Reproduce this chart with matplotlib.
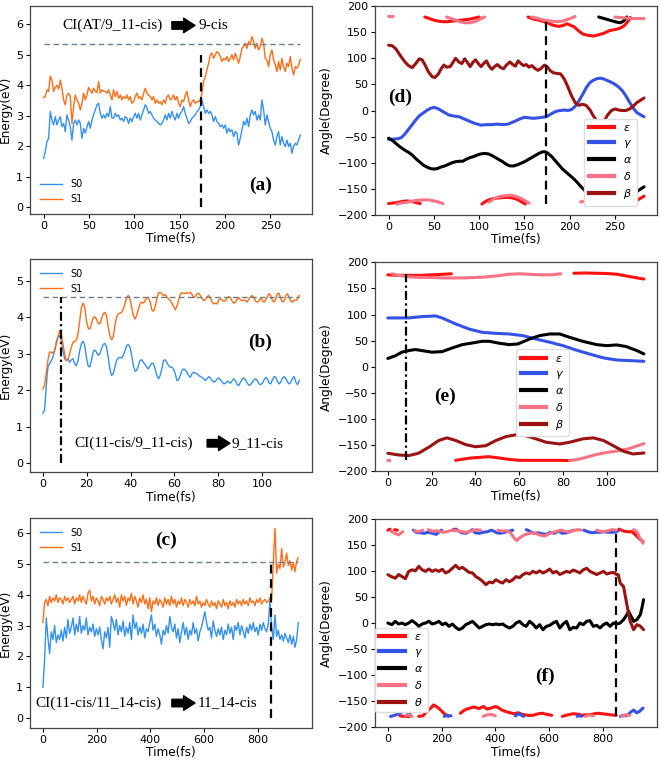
import numpy as np
import matplotlib
matplotlib.use("Agg")
import matplotlib.pyplot as plt
from matplotlib.lines import Line2D

# ---------------- DATA ----------------
# Panel (a): energies (eV), sampled uniformly over 0..283 fs
a_tmax = 283
a_S1 = [3.6,3.63,3.85,3.8,4.3,4.17,3.8,3.93,4.0,3.87,4.17,3.9,3.52,3.36,3.68,3.74,3.63,2.75,3.3,3.68,3.52,3.41,3.19,3.41,3.74,3.52,3.68,3.93,3.83,3.74,3.9,3.8,3.76,4.12,3.74,3.85,3.8,3.8,3.74,3.85,3.68,3.52,3.85,3.63,3.8,3.57,3.68,3.52,3.63,3.57,3.68,3.52,3.63,3.41,3.46,3.63,3.74,3.57,3.63,3.52,3.74,3.9,3.74,3.68,3.63,3.52,3.63,3.41,3.52,3.41,3.46,3.36,3.52,3.41,3.63,3.68,3.52,3.57,3.68,3.52,3.63,3.41,3.3,3.52,3.46,3.68,3.8,3.52,3.3,3.46,3.52,3.41,3.46,3.46,3.52,3.74,4.12,4.28,4.5,4.72,5.0,5.05,4.88,5.0,5.1,5.05,4.94,4.78,4.88,4.83,4.94,4.78,4.88,5.0,4.83,5.05,4.88,4.72,4.94,5.21,5.27,5.38,5.21,5.43,5.32,5.6,5.43,5.21,5.38,5.16,5.27,5.54,5.38,4.88,4.83,4.61,5.0,5.16,4.83,4.67,4.45,4.78,4.5,4.88,4.61,4.45,4.72,4.61,4.94,4.56,4.34,4.61,4.56,4.67,4.85]
a_S0 = [1.6,1.83,2.15,2.26,3.14,2.86,2.7,2.97,2.7,2.86,2.97,2.64,2.75,2.48,3.03,2.86,2.64,2.2,2.75,2.86,2.7,2.86,2.75,2.26,2.59,2.43,2.64,2.81,2.59,2.86,3.03,3.19,3.36,3.41,3.08,2.92,3.03,2.92,3.08,2.97,3.3,2.92,2.92,3.08,2.97,3.03,2.86,2.92,2.81,2.97,2.92,2.75,2.92,2.81,2.97,3.08,2.92,3.08,2.86,3.03,3.19,3.36,3.25,3.08,3.14,3.03,2.92,2.86,2.81,2.75,2.7,2.75,2.86,3.03,2.86,3.08,2.92,3.14,2.97,2.86,3.08,2.92,3.08,3.14,3.3,3.08,2.92,2.75,2.81,2.92,2.97,3.03,3.14,3.19,3.3,3.52,3.3,3.08,3.19,3.08,3.14,3.03,2.81,2.97,2.81,2.75,2.64,2.7,2.59,2.7,2.43,2.59,2.48,2.54,2.32,2.48,2.43,2.04,2.26,2.54,2.81,2.7,2.92,2.64,3.03,3.19,3.03,3.14,2.86,3.03,2.86,3.52,3.19,2.7,3.03,2.81,2.59,2.48,2.2,2.04,2.32,2.48,2.04,2.32,2.1,1.99,2.2,1.99,2.1,1.77,1.99,2.1,2.04,2.2,2.37]
a_ci, a_ci_top, a_ref = 174, 5.0, 5.35

# Panel (b): energies (eV), 0..117 fs
b_tmax = 117
b_S1 = [2.03,2.13,2.45,2.81,3.04,3.04,3.01,3.08,3.27,3.45,3.63,3.54,3.27,2.99,2.81,2.83,2.99,3.18,3.31,3.34,3.36,3.54,3.9,4.27,4.38,4.27,3.9,3.7,3.67,3.81,3.98,4.01,3.95,3.83,3.81,3.95,4.09,4.13,4.04,3.72,3.49,3.38,3.45,3.77,4.0,4.09,4.11,4.13,4.22,4.36,4.54,4.59,4.5,4.27,4.04,3.95,4.04,4.22,4.36,4.41,4.38,4.45,4.53,4.54,4.41,4.2,4.16,4.27,4.5,4.66,4.68,4.64,4.59,4.62,4.54,4.5,4.45,4.38,4.29,4.2,4.29,4.45,4.62,4.67,4.65,4.65,4.67,4.65,4.68,4.62,4.53,4.56,4.64,4.65,4.59,4.5,4.45,4.47,4.56,4.59,4.53,4.41,4.36,4.38,4.36,4.47,4.5,4.47,4.43,4.45,4.53,4.56,4.53,4.43,4.38,4.41,4.5,4.53,4.47,4.45,4.47,4.45,4.41,4.5,4.56,4.59,4.53,4.43,4.41,4.45,4.53,4.45,4.41,4.47,4.56,4.64,4.59,4.45,4.41,4.5,4.64,4.65,4.5,4.41,4.45,4.59,4.64,4.54,4.43,4.41,4.47,4.45,4.5,4.59]
b_S0 = [1.37,1.44,2.08,2.63,2.72,2.81,2.9,3.08,3.31,3.45,3.49,3.36,3.08,2.86,2.81,2.86,2.76,2.83,2.86,2.72,2.67,2.81,3.08,3.28,3.34,3.22,2.9,2.67,2.63,2.81,3.04,3.1,3.04,2.95,2.99,3.13,3.25,3.28,3.18,2.9,2.58,2.4,2.45,2.63,2.81,2.88,2.9,2.88,2.95,3.08,3.22,3.25,3.18,2.95,2.67,2.52,2.54,2.67,2.81,2.83,2.76,2.7,2.63,2.58,2.67,2.74,2.72,2.58,2.4,2.31,2.4,2.58,2.81,2.83,2.76,2.67,2.63,2.63,2.58,2.45,2.26,2.28,2.4,2.54,2.58,2.55,2.49,2.4,2.35,2.45,2.49,2.46,2.45,2.4,2.37,2.35,2.31,2.26,2.31,2.37,2.33,2.26,2.22,2.24,2.31,2.33,2.28,2.22,2.17,2.19,2.24,2.22,2.19,2.26,2.31,2.26,2.15,2.13,2.22,2.31,2.33,2.28,2.19,2.13,2.15,2.22,2.28,2.31,2.26,2.17,2.15,2.19,2.28,2.35,2.31,2.19,2.17,2.28,2.37,2.35,2.24,2.17,2.22,2.33,2.37,2.31,2.22,2.17,2.22,2.33,2.37,2.22,2.15,2.26]
b_ci, b_ci_top, b_ref = 8.4, 4.55, 4.55

# Panel (c): energies (eV), 0..950 fs
c_tmax = 950
c_S1 = [3.10,3.75,3.85,3.65,3.95,3.75,3.90,3.80,4.00,3.75,3.90,3.85,3.70,3.95,3.80,3.90,3.75,3.85,3.95,3.70,3.90,3.80,4.00,3.75,3.95,3.80,3.70,4.05,4.15,3.80,3.95,3.70,3.90,3.80,3.65,3.95,3.85,3.70,3.90,3.80,3.95,3.70,3.85,4.00,3.75,3.90,3.60,4.00,3.80,3.95,3.65,3.90,3.80,4.05,3.70,3.95,3.80,3.60,3.90,3.75,4.00,3.70,3.85,3.55,3.90,3.45,3.80,3.70,3.90,3.65,3.85,3.75,3.60,3.90,3.70,3.85,3.65,3.95,3.70,3.85,3.60,3.80,3.70,3.90,3.65,3.85,3.75,3.60,3.85,3.70,3.80,3.65,3.95,3.70,3.80,3.60,3.75,3.65,3.85,3.70,3.60,3.80,3.65,3.75,3.55,3.80,3.70,3.60,3.85,3.65,3.75,3.55,3.80,3.65,3.75,3.60,3.85,3.70,3.80,3.65,3.85,3.70,3.80,3.65,3.90,3.75,3.80,3.65,3.85,3.75,3.90,3.70,3.80,3.85,3.75,3.80,3.90,3.85,5.05,6.15,4.70,5.00,4.85,5.50,4.90,5.05,5.35,4.95,5.10,4.80,5.05,4.75,5.10,5.20]
c_S0 = [1.00,1.90,3.25,2.60,2.10,2.80,2.55,3.00,2.45,2.70,2.55,2.85,2.50,2.95,2.60,3.20,2.75,2.95,3.25,2.70,3.05,2.80,3.30,2.75,3.00,2.85,3.25,2.70,2.95,2.80,3.05,2.65,2.90,2.70,2.95,2.55,2.25,2.80,2.60,2.95,2.30,3.30,3.10,2.85,3.20,2.70,3.00,2.80,3.15,2.65,2.95,2.75,3.10,2.55,3.35,2.90,3.10,2.70,2.95,2.75,3.05,2.60,2.90,2.80,3.10,3.35,2.85,3.05,2.65,2.90,2.70,2.40,2.85,2.70,3.00,2.75,3.30,2.95,2.80,3.05,2.60,2.90,2.45,2.80,3.10,2.70,2.95,2.55,2.85,2.70,3.10,2.75,2.90,2.50,2.80,2.95,3.20,3.45,3.10,2.85,2.95,2.60,3.15,2.85,2.65,2.90,2.70,2.95,2.55,2.85,2.70,3.05,2.75,2.95,2.55,3.00,2.85,3.10,2.70,3.00,2.80,2.60,2.95,2.75,3.05,2.85,3.10,2.80,2.95,2.70,3.05,2.85,3.10,2.90,2.80,3.05,3.80,2.95,2.55,3.35,2.65,2.85,2.55,2.70,2.50,2.75,2.60,2.45,2.70,2.40,2.65,2.30,2.55,3.10]
c_ci, c_ci_top, c_ref = 850, 5.05, 5.05

# Panel (d): dihedral angles (deg, unwrapped; wrapped into (-180,180] when drawn)
d_ci = 174
d_eps_t = [0,5,10,15,20,25,30,35,40,45,50,55,60,65,70,75,80,85,90,95,100,103,107,112,118,124,130,136,142,147,151,154,160,168,175,182,188,193,197,201,205,210,215,220,226,232,238,244,250,255,260,264,267,270,274,282]
d_eps_v = [-178,-177,-176,-174,-173,-174,-176,-178,-181,-184,-187,-189,-190,-190,-189,-188,-187,-186,-185,-183,-181,-179,-174,-170,-168,-167,-166,-167,-170,-175,-179,-181,-185,-188,-192,-197,-199,-197,-194,-197,-200,-208,-214,-216,-217.5,-215,-212,-207,-205,-203,-198,-190,-182,-178,-172,-164]
d_gam_t = [0,5,10,14,18,22,26,30,34,38,42,46,50,54,58,62,66,70,74,78,82,86,90,94,98,102,108,114,120,126,132,136,140,145,150,155,160,165,170,174,178,182,186,190,194,198,202,206,210,214,218,222,226,230,234,238,242,246,250,254,258,262,266,270,274,282]
d_gam_v = [-55,-55,-54,-52,-45,-36,-27,-18,-10,-5,0,4,6,4,0,-4,-8,-10,-11,-12,-15,-18,-21,-24,-26,-28,-27,-27,-26,-27,-26,-23,-20,-16,-13,-14,-15,-14,-13,-12,-8,-4,-1,0,1,0,2,8,18,30,43,53,58,61,62,60,57,54,50,45,38,28,16,5,-4,-12]
d_alp_t = [0,4,8,13,18,22,26,30,34,38,42,46,50,54,58,62,66,70,74,78,82,86,90,94,98,102,106,110,114,118,122,126,130,134,138,142,146,150,154,158,162,166,170,173,176,180,184,188,192,196,200,204,208,212,216,220,224,228,232,236,240,244,248,252,256,260,263,266,270,274,282]
d_alp_v = [-53,-57,-63,-70,-76,-80,-85,-92,-98,-104,-108,-111,-112,-111,-108,-106,-103,-100,-98,-97,-97,-93,-90,-88,-85,-83,-82,-83,-86,-90,-94,-98,-103,-106,-106,-104,-101,-98,-94,-90,-86,-82,-79,-79,-82,-88,-96,-104,-112,-118,-124,-130,-137,-145,-152,-160,-168,-175,-181,-183,-185,-187,-189,-191,-192,-188,-181,-175,-165,-155,-146]
d_del_t = [0,5,9,14,19,25,30,37,44,50,55,60,64,69,74,79,84,90,95,100,106,111,117,122,128,135,140,145,150,155,158,165,172,180,186,192,197,202,206,212,219,226,234,240,246,250,256,263,270,282]
d_del_v = [180,180,181,183,184,186,188,189,189,187,185,182,179,176,173,170,168,168,170,174,179,185,192,195,197,198,196,193,188,183,179,176,173,171,170,171,174,177,180,185,188,189,189,186,182,179,178,177,176,176]
d_bet_t = [0,4,8,13,18,22,26,30,34,37,40,44,48,51,55,58,61,64,68,71,74,78,81,84,87,90,93,96,99,102,105,108,111,114,117,120,124,127,130,134,137,140,143,146,149,152,155,158,162,165,168,172,175,178,182,186,190,194,198,202,206,210,214,218,222,226,230,234,238,242,246,250,254,258,262,266,270,274,282]
d_bet_v = [125,124,118,105,93,86,82,90,99,97,88,74,65,63,70,80,87,83,84,92,100,92,90,99,92,84,92,97,90,84,90,95,85,79,84,88,82,80,87,93,88,85,95,90,86,88,83,86,80,77,80,87,84,77,72,71,70,60,45,28,15,10,12,10,2,-10,-20,-23,-20,-8,0,3,1,0,0,3,8,15,24]

# Panel (e)
e_ci = 8.4
e_eps_t = [0,5,10,15,20,25,29,31,34,37,40,43,46,50,55,60,66,72,78,83,85,90,95,100,105,110,114,117]
e_eps_v = [176,175,175,175,176,177,178,181,183,185,186,187,188,186,183,181,181,181,181,180.5,179,179.5,179,178.5,177,173,170,168]
e_gam_t = [0,9.5,15.6,21.8,24.8,31,37,43,49.4,55.5,61.7,67.8,74,80,86,92,98.5,104.6,110.7,117]
e_gam_v = [93.5,93.5,96,97.3,93.5,82,72.4,66,64,62.8,59.6,53,47,40.5,32,24.6,17,13,11.8,10.5]
e_alp_t = [0,3.4,6.4,9.5,12.6,15.6,20,24.8,29.4,34,38.7,43,46.3,51,55.5,59.4,64.7,69.3,74,78.5,83,89,95.4,100,104.6,109,113.8,117]
e_alp_v = [16,21,28,31,33,31,28,29,36,42.4,45.6,48.8,48.8,45,42.4,43.7,53,59.6,62.8,62.8,56.5,48.8,42.4,40.5,41.8,38.6,31,24.6]
e_del_t = [0,1,2,5,10,15,20,25,30,35,40,45,50,55,60,65,70,75,79,83,86,90,95,100,105,110,117]
e_del_v = [181,180.5,178,175,172,171,171,170,170,170,171,172,174,177,178,177,176,176,178,181,182,186,192,196,199,203,213]
e_bet_t = [0,4.9,9.5,14,18.7,23.3,27,31,35.6,40,44.8,49.4,54,58.6,63.2,67.8,72.4,78.5,83,89,93.9,98.5,103,107.7,112,117]
e_bet_v = [-165.5,-168.7,-170,-165.5,-154,-141,-136,-141,-149,-153,-151,-141,-133.6,-130,-132,-138,-144.5,-147.7,-144.5,-138,-136,-141,-151,-161.7,-166.8,-165]

# Panel (f)
f_ci = 850
f_eps_t = [0,8,15,25,35,45,60,80,100,115,130,145,160,170,180,195,210,225,240,255,270,285,300,320,340,355,370,385,400,410,425,440,455,470,485,500,520,540,560,575,590,610,630,650,670,690,710,725,740,760,780,800,815,830,850,860,870,880,890,900,910,920,930,940,950]
f_eps_v = [178,180,182,179,178,182,181,181,180,181,182,190,197,203,200,194,186,181,178,180,187,193,196,199,196,200,195,197,200,198,193,190,188,186,188,185,183,183,186,187,185,183,180,181,184,186,185,183,184,185,187,186,185,184,183,180,178,176,175,175,175,170,165,160,156]
f_gam_t = [0,10,25,40,55,65,75,85,95,105,120,135,150,165,180,192,200,210,220,235,245,255,265,275,290,305,315,325,340,355,370,385,395,405,420,435,450,465,475,485,495,505,515,525,535,545,560,575,590,605,620,635,650,665,680,695,705,712,720,730,745,760,775,790,805,820,835,850,858,866,876,886,896,906,916,926,936,946,950]
f_gam_v = [180,181,183,186,190,192,188,183,178,174,173,172,174,172,170,175,178,181,183,182,180,178,176,173,172,176,179,173,172,174,175,178,176,173,172,174,176,178,182,186,184,181,179,177,174,172,173,171,170,174,172,176,172,173,176,178,181,183,181,178,175,173,174,174,175,174,174,175,177,181,183,182,185,190,193,188,190,195,197]
f_alp_t = [0,15,27.5,40,52.5,65,77.5,90,102.5,115,127.5,140,152.5,165,177.5,190,202.5,215,227.5,240,252.5,265,277.5,290,302.5,315,327.5,340,352.5,365,377.5,390,402.5,415,427.5,440,452.5,465,477.5,490,502.5,515,527.5,540,552.5,565,577.5,590,602.5,615,627.5,640,652.5,665,677.5,690,702.5,715,727.5,740,752.5,765,777.5,790,802.5,815,827.5,840,852.5,865,877.5,890,896,902.5,915,927.5,940,946,952]
f_alp_v = [0,-3.2,3.2,-1.9,0,-3.2,0,4.5,0,-6.4,-1.9,0,3.2,-1.9,0,3.2,-3.2,0,-6.4,-1.9,-8.3,-12.8,-9.6,-3.2,0,3.2,-3.2,-9.6,-6.4,-3.2,-1.9,-3.2,-1.9,-3.2,-1.9,-6.4,-9.6,-6.4,0,3.2,-3.2,-6.4,3.2,-1.9,-9.6,-3.2,-12.8,-6.4,-4.5,0,3.2,-9.6,-1.9,3.2,-12.8,-8.3,-9.6,0,-3.2,3.2,4.5,-6.4,-4.5,-9.6,-3.2,0,-6.4,0,-1.9,0,6.4,16,22.4,16,3.2,6.4,16,28.8,44.7]
f_del_t = [0,12,25,40,55,65,75,90,100,115,130,140,150,165,180,195,210,225,240,255,270,285,300,315,330,345,355,370,385,400,410,425,440,455,470,480,490,505,520,540,555,570,585,600,615,630,645,660,675,690,705,720,735,750,765,778,790,805,820,835,850,870,885,900,915,928,936,942,950]
f_del_v = [181,176,172,169,175,182,184,181,177,175,178,182,179,176,177,175,174,176,178,177,176,174,175,177,179,178,181,184,185,182,178,176,177,174,163,158,163,168,171,173,171,168,167,171,174,176,178,176,174,177,179,178,181,184,182,178,176,175,177,179,178,181,184,183,179,175,165,160,153]
f_the_t = [0,12.5,27.5,40,52.5,65,77.5,90,102.5,115,127.5,140,152.5,165,177.5,190,202.5,215,227.5,240,252.5,265,277.5,290,302.5,315,327.5,340,352.5,365,377.5,390,402.5,415,427.5,440,452.5,465,477.5,490,502.5,515,527.5,540,552.5,565,577.5,590,602.5,615,627.5,640,652.5,665,677.5,690,702.5,715,727.5,740,752.5,765,777.5,790,802.5,815,827.5,840,852.5,858,865,877.5,890,902.5,915,927.5,940,952]
f_the_v = [92.7,89,86,93,89,85,99,102,100,108.6,102,99,103.5,99,102,99,103,96,99,105,110.5,104,106.7,102,97,96,89,85,80,73.5,78.6,77,83,79,76.7,83,79,83,89,87,92.7,96,94,99,96,100,96,99,103.5,96,99,93,96,99,97,101.6,99,96,102,105,99,96,93,96,99,94,96,97,92.7,92.7,76.7,70,35,3,-12.8,-3,-6,-12.8]

# Styling
C_S0, C_S1 = '#3591ec', '#ff6d17'
C_EPS, C_GAM, C_ALP, C_DEL, C_BET = '#ff1010', '#3452e6', '#000000', '#fa7384', '#9a1212'
SERIF = 'Liberation Serif'

fig = plt.figure(figsize=(6.6, 7.62), dpi=100)

def wrap(t, v):
    t = np.asarray(t, float); v = np.asarray(v, float)
    w = v - 360.0 * np.ceil((v - 180.0) / 360.0)
    tt, ww = [t[0]], [w[0]]
    for i in range(1, len(w)):
        if abs(w[i] - w[i - 1]) > 180:
            tt.append(np.nan); ww.append(np.nan)
        tt.append(t[i]); ww.append(w[i])
    return tt, ww

def style(ax, ylabel, xlim, ylim, xticks, yticks):
    ax.set_xlim(*xlim); ax.set_ylim(*ylim)
    ax.set_xticks(xticks); ax.set_yticks(yticks)
    ax.tick_params(labelsize=8, length=3, width=0.8, pad=2)
    ax.set_xlabel('Time(fs)', fontsize=8.7, labelpad=1)
    ax.set_ylabel(ylabel, fontsize=8.7, labelpad=3)
    for s in ax.spines.values():
        s.set_color('#444444'); s.set_linewidth(0.9)

def energy_panel(rect, tmax, S0, S1, ci, ci_top, ref, ci_ls, xlim, ylim, xticks, yticks, legloc):
    ax = fig.add_axes(rect)
    t0 = np.linspace(0, tmax, len(S0)); t1 = np.linspace(0, tmax, len(S1))
    ax.plot(t0, S0, color=C_S0, lw=1.0, label='S0')
    ax.plot(t1, S1, color=C_S1, lw=1.0, label='S1')
    ax.plot([0, tmax], [ref, ref], ls=(0, (4, 2.5)), color='#6f7f8c', lw=1.0)
    ax.plot([ci, ci], [0, ci_top], ls=ci_ls, color='black', lw=1.6)
    style(ax, 'Energy(eV)', xlim, ylim, xticks, yticks)
    ax.legend(loc=legloc, frameon=False, fontsize=7, handlelength=2.3, borderaxespad=0.6)
    return ax

def angle_panel(rect, series, labels, ci, ci_range, ci_ls, xlim, xticks, legkw):
    ax = fig.add_axes(rect)
    cols = [C_EPS, C_GAM, C_ALP, C_DEL, C_BET]
    for (t, v), c in zip(series, cols):
        tt, ww = wrap(t, v)
        ax.plot(tt, ww, color=c, lw=2.2, solid_capstyle='round')
    ax.plot([ci, ci], ci_range, ls=ci_ls, color='black', lw=1.6)
    style(ax, 'Angle(Degree)', xlim, (-200, 200), xticks, range(-200, 201, 50))
    handles = [Line2D([], [], color=c, lw=3) for c in cols]
    ax.legend(handles, labels, fontsize=8, handlelength=2.3, framealpha=1,
              edgecolor='#dddddd', borderpad=0.4, labelspacing=0.45, **legkw)
    return ax

def ci_text(ax, x1, txt1, xa0, xa1, x2, txt2, y):
    ax.text(x1, y, txt1, transform=ax.transAxes, family=SERIF, fontsize=11, va='center', ha='left')
    ax.annotate('', xy=(xa1, y), xytext=(xa0, y), xycoords='axes fraction', textcoords='axes fraction',
                arrowprops=dict(arrowstyle='simple,head_length=0.55,head_width=0.7,tail_width=0.36',
                                mutation_scale=15, color='black', shrinkA=0, shrinkB=0))
    ax.text(x2, y, txt2, transform=ax.transAxes, family=SERIF, fontsize=11, va='center', ha='left')

def tag(ax, x, y, s):
    ax.text(x, y, s, transform=ax.transAxes, family=SERIF, fontsize=14, fontweight='bold',
            ha='center', va='center')

# (a)
ax = energy_panel([0.0455, 0.7192, 0.4273, 0.2734], a_tmax, a_S0, a_S1, a_ci, a_ci_top, a_ref, (0, (4, 2.5)),
                  (-15, 296), (-0.22, 6.61), range(0, 251, 50), range(0, 7), 'lower left')
ci_text(ax, 0.113, 'CI(AT/9_11-cis)', 0.503, 0.585, 0.598, '9-cis', 0.905)
tag(ax, 0.816, 0.138, '(a)')

# (b)
ax = energy_panel([0.0455, 0.3802, 0.4273, 0.2799], b_tmax, b_S0, b_S1, b_ci, b_ci_top, b_ref, (0, (4, 1.5, 1, 1.5)),
                  (-5.85, 122.85), (-0.25, 5.59), range(0, 101, 20), range(0, 6), 'upper left')
ci_text(ax, 0.156, 'CI(11-cis/9_11-cis)', 0.628, 0.709, 0.714, '9_11-cis', 0.136)
tag(ax, 0.816, 0.61, '(b)')

# (c)
ax = energy_panel([0.0455, 0.0446, 0.4273, 0.2756], c_tmax, c_S0, c_S1, c_ci, c_ci_top, c_ref, (0, (4, 2.5)),
                  (-48, 1001), (-0.32, 6.49), range(0, 801, 200), range(0, 7), 'upper left')
ci_text(ax, 0.018, 'CI(11-cis/11_14-cis)', 0.503, 0.585, 0.594, '11_14-cis', 0.119)
tag(ax, 0.482, 0.895, '(c)')

# (d)
ax = angle_panel([0.5682, 0.7178, 0.4268, 0.2743],
                 [(d_eps_t, d_eps_v), (d_gam_t, d_gam_v), (d_alp_t, d_alp_v), (d_del_t, d_del_v), (d_bet_t, d_bet_v)],
                 [r'$\varepsilon$', r'$\gamma$', r'$\alpha$', r'$\delta$', r'$\beta$'],
                 d_ci, (-178, 175), (0, (4, 2.5)), (-15, 296), range(0, 251, 50),
                 dict(loc='center', bbox_to_anchor=(0.836, 0.252)))
tag(ax, 0.089, 0.565, '(d)')

# (e)
ax = angle_panel([0.5682, 0.3815, 0.4268, 0.2743],
                 [(e_eps_t, e_eps_v), (e_gam_t, e_gam_v), (e_alp_t, e_alp_v), (e_del_t, e_del_v), (e_bet_t, e_bet_v)],
                 [r'$\varepsilon$', r'$\gamma$', r'$\alpha$', r'$\delta$', r'$\beta$'],
                 e_ci, (-179, 177), (0, (4, 1.5, 1, 1.5)), (-5.85, 122.85), range(0, 101, 20),
                 dict(loc='center', bbox_to_anchor=(0.595, 0.375)))
tag(ax, 0.248, 0.359, '(e)')

# (f)
ax = angle_panel([0.5682, 0.0455, 0.4268, 0.2738],
                 [(f_eps_t, f_eps_v), (f_gam_t, f_gam_v), (f_alp_t, f_alp_v), (f_del_t, f_del_v), (f_the_t, f_the_v)],
                 [r'$\varepsilon$', r'$\gamma$', r'$\alpha$', r'$\delta$', r'$\theta$'],
                 f_ci, (-178, 175), (0, (4, 2.5)), (-48, 1001), range(0, 801, 200),
                 dict(loc='center left', bbox_to_anchor=(0.0, 0.275), borderaxespad=0.0))
tag(ax, 0.604, 0.246, '(f)')

fig.savefig('out.png', dpi=100)
